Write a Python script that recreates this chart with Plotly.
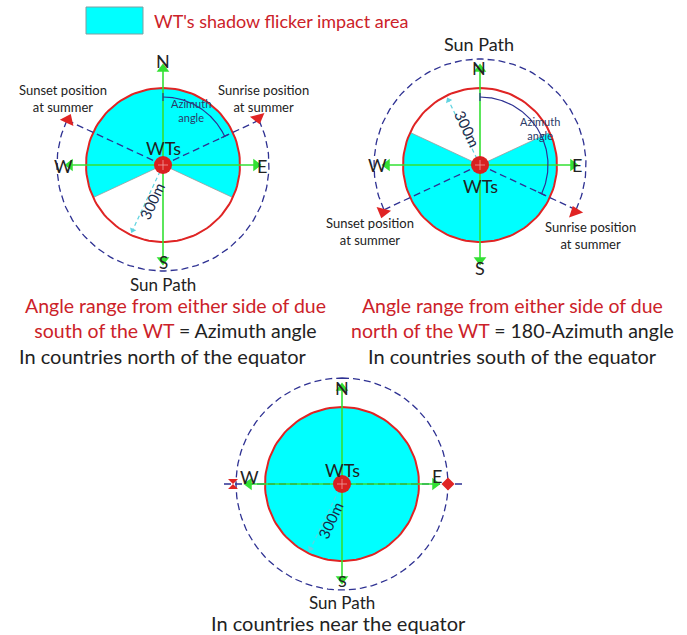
import numpy as np
import plotly.graph_objects as go

# ---------------- data ----------------
legend_label = "WT's shadow flicker impact area"
compass_labels = ["N", "E", "S", "W"]
sunrise_azimuth = [65, 115, 90]      # degrees clockwise from north
sunset_azimuth = [295, 245, 270]
radius_label = "300m"
turbine_label = "WTs"
sun_path_label = "Sun Path"
event_labels = ["Sunset position<br>at summer", "Sunrise position<br>at summer"]
angle_label = "Azimuth<br>angle"
rule_red = ["Angle range from either side of due<br>south of the WT",
            "Angle range from either side of due<br>north of the WT"]
rule_black = [" = Azimuth angle", " = 180-Azimuth angle"]
region_labels = ["In countries north of the equator",
                 "In countries south of the equator",
                 "In countries near the equator"]

# ---------------- styles / layout constants ----------------
FONT = "Lato"
CYAN = "#00ffff"
RED = "#e02424"
TXT_RED = "#cc2229"
NAVY = "#2e3192"
GREEN = "#33e033"
DASH = "7px,4px"
W, H = 687, 635
centers = [(163, 165), (480, 165), (342, 484)]
R_IN = 77
R_OUT = 106

fig = go.Figure()


def pt(cx, cy, r, az):
    a = np.radians(az)
    return cx + r * np.sin(a), cy - r * np.cos(a)


def arc(cx, cy, r, a0, a1, n=120):
    az = np.linspace(a0, a1, n)
    return pt(cx, cy, r, az)


def line(xs, ys, color, width=1.5, dash="solid", fill=None, fillcolor=None):
    fig.add_trace(go.Scatter(x=list(xs), y=list(ys), mode="lines",
                             line=dict(color=color, width=width, dash=dash),
                             fill=fill, fillcolor=fillcolor,
                             hoverinfo="skip", showlegend=False))


def marker(x, y, symbol, color, size, angle=0):
    fig.add_trace(go.Scatter(x=[x], y=[y], mode="markers",
                             marker=dict(symbol=symbol, color=color, size=size, angle=angle,
                                         line=dict(width=0)),
                             hoverinfo="skip", showlegend=False))


def text(x, y, s, size=18, color="#222", angle=0):
    fig.add_annotation(x=x, y=y, text=s, showarrow=False, textangle=angle,
                       font=dict(family=FONT, size=size, color=color),
                       xanchor="center", yanchor="middle")


for i, (cx, cy) in enumerate(centers):
    rise, sset = sunrise_azimuth[i], sunset_azimuth[i]
    # shaded disk
    xs, ys = arc(cx, cy, R_IN, 0, 360)
    line(xs, ys, CYAN, 0, fill="toself", fillcolor=CYAN)
    # unshaded sector
    if i == 0:
        sx, sy = arc(cx, cy, R_IN, 180 - rise, 180 + rise)
    elif i == 1:
        sx, sy = arc(cx, cy, R_IN, -(180 - rise), 180 - rise)
    else:
        sx, sy = None, None
    if sx is not None:
        line([cx] + list(sx) + [cx], [cy] + list(sy) + [cy], "#9a9a9a", 0.8,
             fill="toself", fillcolor="white")
    # red circle outline
    line(xs, ys, RED, 2)

    # sun path (dashed)
    if i == 0:
        ox, oy = arc(cx, cy, R_OUT, rise, sset)
    elif i == 1:
        ox, oy = arc(cx, cy, R_OUT, rise, sset - 360)
    else:
        ox, oy = arc(cx, cy, R_OUT, 0, 360)
    line(ox, oy, NAVY, 1.3, dash=DASH)

    # sunrise/sunset direction lines
    if i < 2:
        for az in (rise, sset):
            ex, ey = pt(cx, cy, R_OUT + 2, az)
            line([cx, ex], [cy, ey], NAVY, 1.3, dash=DASH)
    else:
        line([cx - R_OUT - 12, cx + R_OUT + 18], [cy, cy], NAVY, 1.3, dash=DASH)

    # green compass cross
    line([cx - 93, cx + 93], [cy, cy], GREEN, 1.6)
    line([cx, cx], [cy - 96, cy + 95], GREEN, 1.6)
    marker(cx - 93, cy, "triangle-left", GREEN, 11)
    marker(cx + 93, cy, "triangle-right", GREEN, 11)
    marker(cx, cy - 96, "triangle-up", GREEN, 11)
    marker(cx, cy + 95, "triangle-down", GREEN, 11)

    # azimuth angle arc
    if i < 2:
        ax_, ay_ = arc(cx, cy, 68, 0, rise)
        line(ax_, ay_, NAVY, 1.2)
        for az in (0, rise):
            t0 = pt(cx, cy, 64, az)
            t1 = pt(cx, cy, 72, az)
            line([t0[0], t1[0]], [t0[1], t1[1]], NAVY, 1.2)

    # radius indicator
    raz = [205, 334, 206][i]
    rx, ry = pt(cx, cy, 72, raz)
    line([cx, rx], [cy, ry], "#5fd3e0", 1.2, dash="4px,3px")
    marker(rx, ry, "triangle-up", "#5fd3e0", 6, angle=raz)
    tx, ty = pt(cx, cy, 40, raz)
    tang = [-65, 65, -65][i]
    text(tx + (6 if i != 1 else 5), ty, radius_label, 15, "#1a2a4a", tang)

    # turbine
    marker(cx, cy, "circle", "#d82020", 18)
    line([cx - 5, cx + 5], [cy, cy], "#f0a0a0", 0.8)
    line([cx, cx], [cy - 5, cy + 5], "#f0a0a0", 0.8)

# red sun markers
marker(68, 120, "triangle-up", RED, 13, 25)
marker(258, 118, "triangle-down", RED, 13, -15)
marker(383, 212, "triangle-down", RED, 13, 15)
marker(575, 212, "triangle-up", RED, 13, -20)
marker(233, 484, "hourglass", RED, 10)
marker(448, 484, "diamond", RED, 10)

# legend
fig.add_shape(type="rect", x0=86, x1=143, y0=7, y1=34, fillcolor=CYAN,
              line=dict(color="#7f9fa0", width=1))
fig.add_annotation(x=152, y=21, text=legend_label, showarrow=False, xanchor="left",
                   yanchor="middle", font=dict(family=FONT, size=18, color=TXT_RED))

# panel 1 text
text(163, 61, compass_labels[0]); text(163, 262, compass_labels[2], 17)
text(63, 166, compass_labels[3]); text(262, 166, compass_labels[1])
text(163, 148, turbine_label)
text(163, 284, sun_path_label, 17)
text(63, 98, event_labels[0], 13)
text(263, 98, event_labels[1], 13)
text(191, 110, angle_label, 11, "#2b3a67")

# panel 2 text
text(479, 68, compass_labels[0]); text(480, 268, compass_labels[2])
text(377, 165, compass_labels[3]); text(577, 165, compass_labels[1])
text(480, 186, turbine_label)
text(479, 44, sun_path_label)
text(370, 231, event_labels[0], 13)
text(590, 235, event_labels[1], 13)
text(540, 128, angle_label, 11, "#2b3a67")

# panel 3 text
text(342, 388, compass_labels[0]); text(342, 580, compass_labels[2], 16)
text(249, 477, compass_labels[3]); text(437, 476, compass_labels[1])
text(342, 602, sun_path_label, 17)
text(342, 470, turbine_label)

# rules
for j, xc in enumerate([175, 512]):
    fig.add_annotation(x=xc, y=318,
                       text=f'<span style="color:{TXT_RED}">{rule_red[j]}</span>{rule_black[j]}',
                       showarrow=False, xanchor="center", yanchor="middle",
                       font=dict(family=FONT, size=19.5, color="#222"))
    text(xc - 12 if j == 0 else xc, 356, region_labels[j], 20)
text(338, 623, region_labels[2], 20)

fig.update_layout(width=W, height=H, margin=dict(l=0, r=0, t=0, b=0),
                  paper_bgcolor="white", plot_bgcolor="white",
                  xaxis=dict(range=[0, W], visible=False, fixedrange=True),
                  yaxis=dict(range=[H, 0], visible=False, fixedrange=True),
                  showlegend=False)
fig.write_html("out.html", config={"displayModeBar": False},
               post_script="document.body.style.margin='0';document.body.style.overflow='hidden';")
